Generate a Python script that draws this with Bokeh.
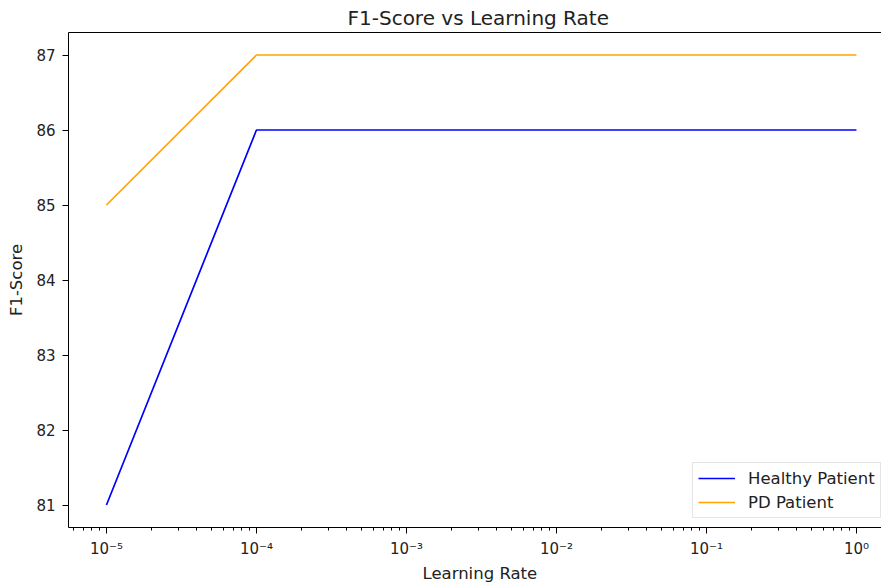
from bokeh.plotting import figure
from bokeh.models import (Range1d, FixedTicker, LogTicker, LinearAxis, CustomJSTickFormatter,
                          Legend, LegendItem, Title)
from bokeh.embed import file_html
from bokeh.resources import INLINE

learning_rates = [1e-5, 1e-4, 1e-3, 1e-2, 1e-1, 1.0]
healthy_f1 = [81, 86, 86, 86, 86, 86]
pd_f1 = [85, 87, 87, 87, 87, 87]
y_ticks = [81, 82, 83, 84, 85, 86, 87]

FONT = "DejaVu Sans"
TXT = "#222222"

p = figure(width=881, height=584, x_axis_type="log",
           x_range=Range1d(10 ** -5.253, 10 ** 0.167),
           y_range=Range1d(80.7, 87.3),
           output_backend="svg", toolbar_location=None,
           min_border_left=68, min_border_right=0, min_border_top=32, min_border_bottom=57)
p.background_fill_color = "white"
p.border_fill_color = "white"
p.outline_line_color = None
p.xgrid.visible = False
p.ygrid.visible = False
p.title.text = ""

r1 = p.line(learning_rates, healthy_f1, line_color="blue", line_width=1.7)
r2 = p.line(learning_rates, pd_f1, line_color="orange", line_width=1.7)

for ax in (p.xaxis[0], p.yaxis[0]):
    ax.axis_line_color = "black"
    ax.axis_line_width = 1
    ax.major_tick_line_color = "black"
    ax.minor_tick_line_color = "black"
    ax.major_tick_out = 6
    ax.major_tick_in = 0
    ax.minor_tick_in = 0
    ax.major_label_text_font = FONT
    ax.major_label_text_font_size = "15px"
    ax.major_label_text_color = TXT
    ax.axis_label_text_font = FONT
    ax.axis_label_text_font_size = "16.5px"
    ax.axis_label_text_font_style = "normal"
    ax.axis_label_text_color = TXT

p.xaxis[0].ticker = LogTicker(num_minor_ticks=10)
p.xaxis[0].minor_tick_out = 3
p.xaxis[0].major_label_standoff = 6
p.xaxis[0].formatter = CustomJSTickFormatter(code="""
const sup = {'-':'\u207b','0':'\u2070','1':'\u00b9','2':'\u00b2','3':'\u00b3','4':'\u2074',
             '5':'\u2075','6':'\u2076','7':'\u2077','8':'\u2078','9':'\u2079'};
const e = Math.round(Math.log10(tick));
return '10' + String(e).split('').map(c => sup[c]).join('');
""")

p.yaxis[0].ticker = FixedTicker(ticks=y_ticks)
p.yaxis[0].minor_tick_out = 0
p.yaxis[0].major_label_standoff = 7
p.yaxis[0].axis_label = "F1-Score"
p.yaxis[0].axis_label_standoff = 7

top = LinearAxis(ticker=FixedTicker(ticks=[]), axis_line_color="black",
                 major_tick_out=0, major_tick_in=0, minor_tick_out=0, minor_tick_in=0,
                 major_label_text_font_size="0px")
p.add_layout(top, "above")

p.add_layout(Title(text="F1-Score vs Learning Rate", align="left", offset=279,
                   text_font=FONT, text_font_size="20px", text_font_style="normal",
                   text_color=TXT, standoff=6), "above")
p.add_layout(Title(text="Learning Rate", align="left", offset=354,
                   text_font=FONT, text_font_size="16.5px", text_font_style="normal",
                   text_color=TXT, standoff=3), "below")

legend = Legend(items=[LegendItem(label="Healthy Patient", renderers=[r1]),
                       LegendItem(label="PD Patient", renderers=[r2])],
                location=(624, 9), orientation="vertical",
                padding=5, margin=0, spacing=4, glyph_width=37, glyph_height=20,
                label_standoff=13, label_text_font=FONT, label_text_font_size="16.5px",
                label_text_color=TXT, label_height=20,
                border_line_color="#cccccc", border_line_width=1,
                background_fill_alpha=0.8)
p.add_layout(legend, "center")

open("out.html", "w").write(file_html(p, INLINE))
